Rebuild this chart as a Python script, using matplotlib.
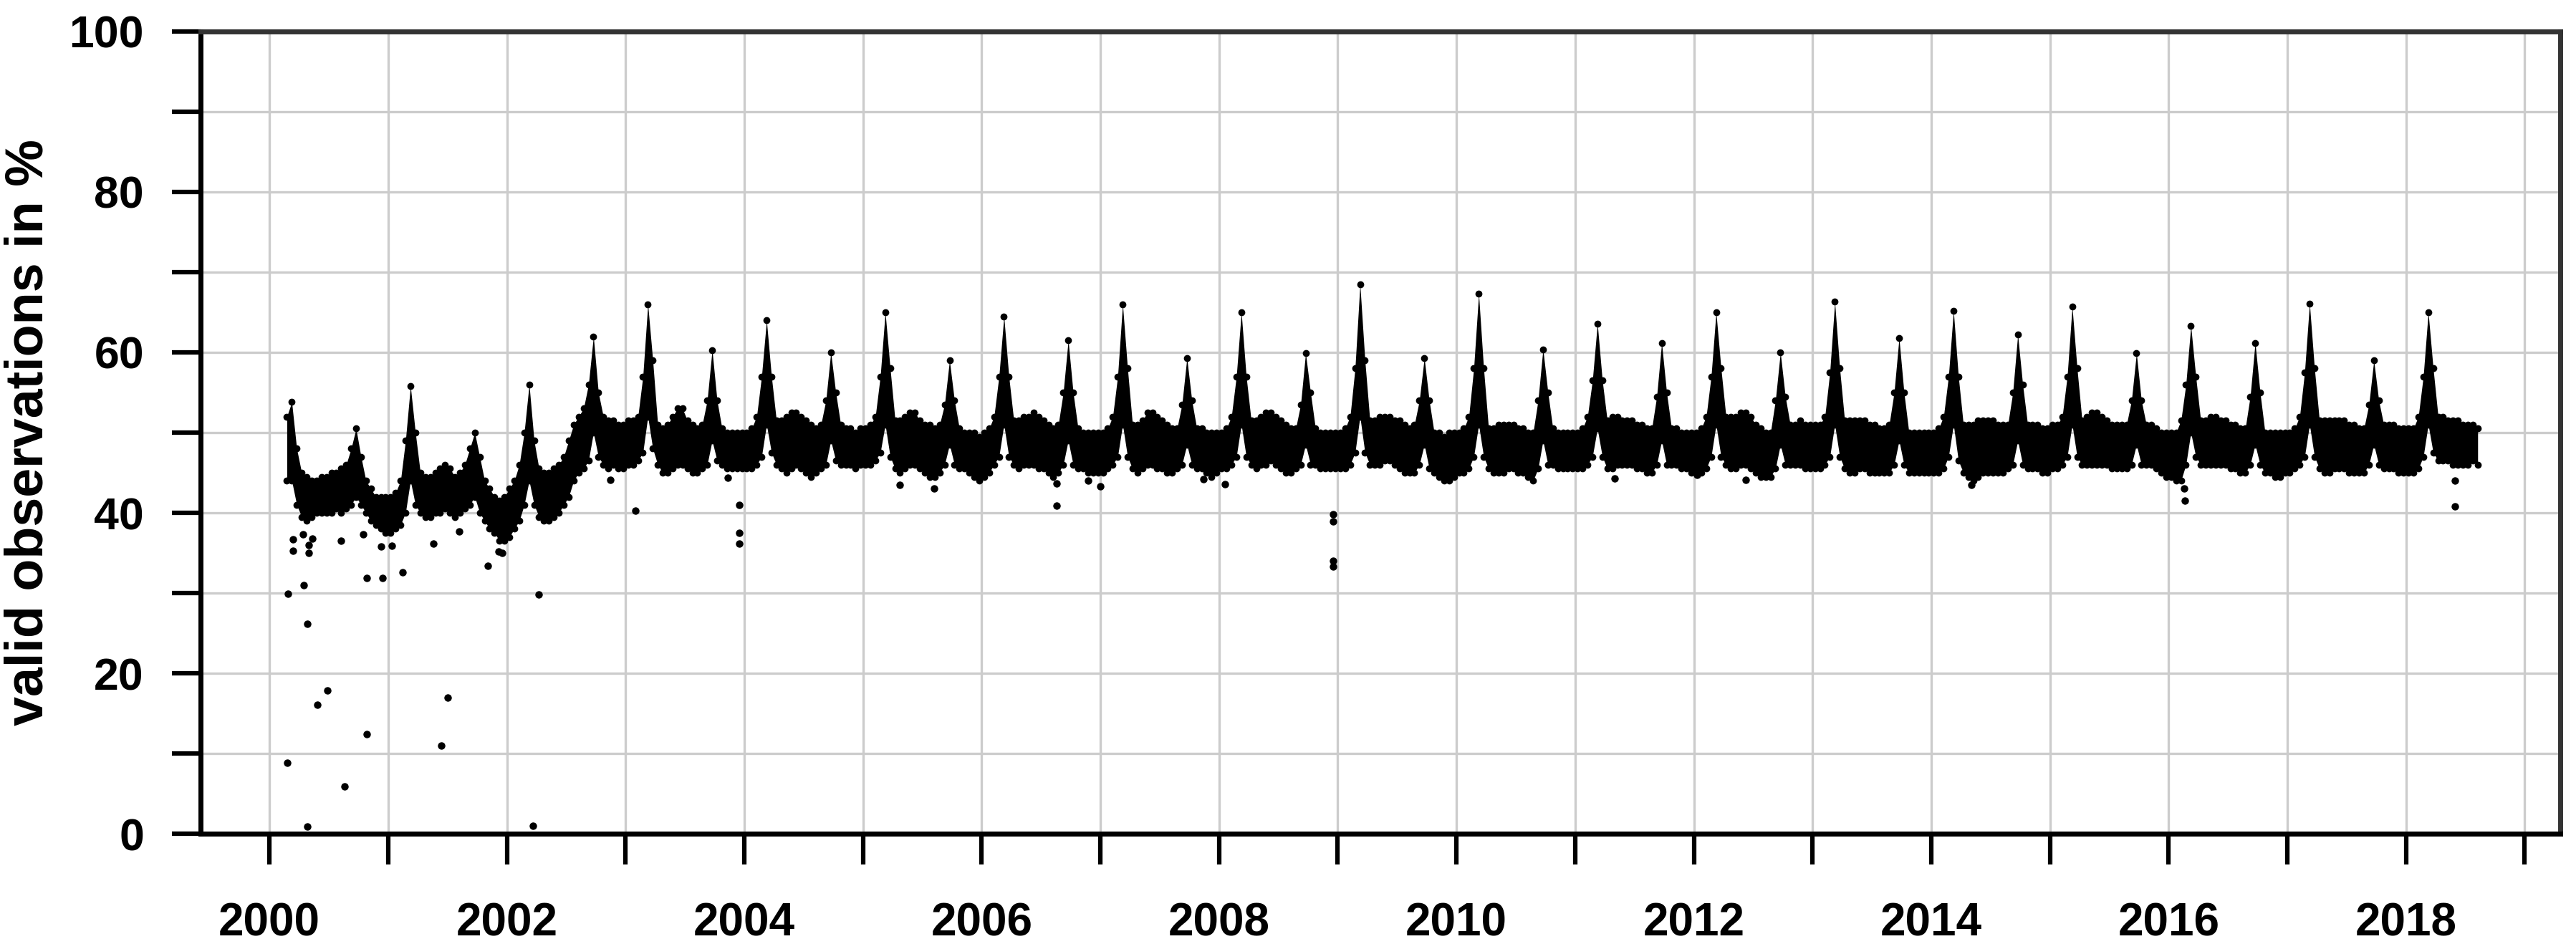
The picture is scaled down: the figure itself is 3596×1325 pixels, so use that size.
import numpy as np
import matplotlib
matplotlib.use("Agg")
import matplotlib.pyplot as plt

plt.rcParams['font.family'] = ['Liberation Sans', 'DejaVu Sans']
plt.rcParams['font.weight'] = 'bold'

nan = np.nan

# years of record, each split into 24 half-month bins
years = list(range(2000, 2019))

# upper edge of the daily point cloud per half-month bin (valid observations in %)
upper = [
    [nan, nan, nan, 52, 53.8, 48, 45, 44.5, 44, 44, 44.5, 44.5, 45, 45, 45.5, 46, 48, 50.5, 47, 44, 43, 42, 42, 42],
    [42, 42.5, 44, 49, 55.8, 50, 45, 44.5, 44.5, 45, 45.5, 46, 45.5, 44.5, 45, 46, 48, 50, 47, 44, 43, 42, 41.5, 42],
    [43, 44, 46, 50, 56, 49, 45.5, 45, 45, 45.5, 46, 47, 49, 51, 52, 53, 56, 62, 55, 52, 51.5, 51.5, 51, 51],
    [51.5, 51.5, 52, 57, 66, 59, 51, 50.5, 51, 52, 53, 53, 51.5, 51, 50.5, 51, 54, 60.3, 54, 50.5, 50, 50, 50, 50],
    [50, 50.5, 52, 57, 64, 57, 51.5, 51.5, 52, 52.5, 52.5, 52, 51.5, 51, 50.5, 51, 54, 60, 55, 51, 50.5, 50.5, 50, 50.5],
    [50.5, 51, 52, 57, 65, 58, 51.5, 51.5, 52, 52.5, 52.5, 51.5, 51, 51, 50.5, 51, 53.5, 59, 54, 50.5, 50, 50, 50, 49.5],
    [50, 50.5, 52, 57, 64.5, 57, 51.5, 51.5, 52, 52, 52.5, 52, 51.5, 51, 50.5, 51, 55, 61.5, 55, 50.5, 50, 50, 50, 50],
    [50, 50.5, 52, 57, 66, 58, 51, 51, 51.5, 52.5, 52.5, 52, 51.5, 51, 50.5, 50.5, 53.5, 59.3, 54, 50.5, 50.5, 50, 50, 50],
    [50, 50.5, 52, 57, 65, 57, 51.5, 51.5, 52, 52.5, 52.5, 52, 51.5, 51, 50.5, 50.5, 53.5, 59.9, 55, 50.5, 50, 50, 50, 50],
    [50, 50.5, 52, 58, 68.5, 59, 51.5, 51.5, 52, 52, 52, 51.5, 51.5, 51, 50.5, 51, 54, 59.3, 54, 50, 50, 49.5, 50, 50],
    [50, 50.5, 52, 58, 67.3, 58, 50.5, 50.5, 51, 51, 51, 51, 50.5, 50.5, 50, 50, 54, 60.4, 55, 50.5, 50, 50, 50, 50],
    [50, 50.5, 52, 56.5, 63.6, 56.5, 51.5, 52, 52, 51.5, 51.5, 51.5, 51, 51, 50.5, 50.5, 54.5, 61.2, 55, 50.5, 50.5, 50, 50, 50],
    [50, 50.5, 52, 57, 65, 58, 52, 52, 52, 52.5, 52.5, 52, 51, 50.5, 50, 50, 54, 60, 54.5, 51, 51, 51.5, 51, 51],
    [51, 51, 52, 57.5, 66.3, 58, 51.5, 51.5, 51.5, 51.5, 51.5, 51, 51, 50.5, 50.5, 51, 55, 61.8, 55, 50, 50, 50, 50, 50],
    [50, 50.5, 52, 57, 65.2, 57, 51, 51, 51, 51.5, 51.5, 51.5, 51.5, 51, 51, 51, 55, 62.2, 56, 51, 51, 51, 50.5, 50.5],
    [51, 51, 52, 57, 65.7, 58, 51.5, 52, 52.5, 52.5, 52, 51.5, 51, 51, 51, 51, 54, 59.9, 54, 51, 51, 50.5, 50, 50],
    [50, 50, 51.5, 56, 63.3, 57, 51.5, 51.5, 52, 52, 51.5, 51.5, 51, 51, 50.5, 50.5, 54.5, 61.2, 55, 50, 50, 50, 50, 50],
    [50, 50.5, 52, 57.5, 66.1, 58, 51.5, 51.5, 51.5, 51.5, 51.5, 51.5, 51, 51, 50.5, 50.5, 53.5, 59, 54, 51, 51, 51, 50.5, 50.5],
    [50.5, 50.5, 52, 57, 65, 58, 52, 52, 51.5, 51.5, 51.5, 51, 51, 51, 50.5, nan, nan, nan, nan, nan, nan, nan, nan, nan],
]

# lower edge of the daily point cloud per half-month bin
lower = [
    [nan, nan, nan, 44, 44, 41, 39.5, 39, 39.5, 40, 40, 40, 40, 40.5, 40, 40.5, 41, 42, 41, 40, 39, 38.5, 38, 37.5],
    [37.5, 38, 38.5, 40, 44, 41, 40, 39.5, 39.5, 40, 40, 40.5, 40, 39.5, 40, 40.5, 41, 42, 40, 39, 38, 37.5, 36.5, 36.5],
    [37, 38, 39, 41, 44, 41, 39.5, 39, 39, 39.5, 40, 41, 42, 44, 45, 45.5, 46.5, 50, 47, 46, 45.5, 46, 45.5, 45.5],
    [46, 46, 46.5, 47.5, 52, 48, 46, 45, 45, 45.5, 46, 46, 45.5, 45, 45, 45.5, 46, 49, 46.5, 46, 45.5, 45.5, 45.5, 45.5],
    [45.5, 45.5, 46, 47, 51, 47.5, 46, 45.5, 45, 45.5, 46, 45.5, 45, 44.5, 45, 45.5, 46, 49, 46.5, 46, 46, 46, 45.5, 46],
    [46, 46, 46.5, 47.5, 51, 47, 45.5, 45, 45.5, 46, 46, 45.5, 45, 44.5, 44.5, 45, 46, 48.5, 46, 45.5, 45.5, 45, 44.5, 44],
    [44.5, 45, 46, 47, 51, 47, 46, 45.5, 46, 46, 46, 45.5, 45.5, 45, 44.5, 45, 46, 49, 46, 45.5, 45.5, 45, 45, 45],
    [45, 45.5, 46, 47, 51, 47, 45.5, 45, 45.5, 46, 46, 45.5, 45.5, 45, 45, 45.5, 46, 48.5, 46, 45.5, 45.5, 45, 44.5, 45],
    [45.5, 45.5, 46, 47, 51, 47, 46, 45.5, 46, 46, 46.5, 46, 45.5, 45, 45, 45.5, 46, 48.5, 46, 46, 45.5, 45.5, 45.5, 45.5],
    [45.5, 45.5, 46, 47.5, 52, 47.5, 46, 46, 46, 46.5, 46.5, 46, 45.5, 45, 45, 45, 46, 48.5, 45.5, 45, 44.5, 44, 44, 44.5],
    [45, 45, 45.5, 47, 51, 47, 45.5, 45, 45, 45, 45.5, 45.5, 45, 45, 44.5, 44, 45.5, 49, 46, 46, 45.5, 45.5, 45.5, 45.5],
    [45.5, 45.5, 46, 47, 50.5, 47, 45.5, 45.5, 46, 46, 46, 46, 45.5, 45.5, 45, 45, 46, 49, 46, 46, 46, 45.5, 45.5, 45],
    [45, 45, 45.5, 47, 51, 47, 46, 45.5, 45.5, 46, 46, 45.5, 45, 44.5, 44.5, 44.5, 45.5, 48.5, 46, 46, 46, 46, 45.5, 45.5],
    [45.5, 45.5, 46, 47, 51, 47, 45.5, 45, 45, 45.5, 45.5, 45, 45, 45, 45, 45, 46, 49, 46, 45, 45, 45, 45, 45],
    [45, 45, 45.5, 47, 51, 46.5, 45, 44.5, 44, 44.5, 45, 45, 45, 45, 45, 45.5, 46, 49, 46, 45.5, 45.5, 45.5, 45, 45],
    [45.5, 45.5, 46, 47, 51, 47, 46, 46, 46, 46, 46, 46, 45.5, 45.5, 45.5, 45.5, 46, 48.5, 46, 46, 46, 45.5, 45, 44.5],
    [44.5, 44, 44, 46, 50, 47, 46, 46, 46, 46, 46, 46, 45.5, 45.5, 45, 45, 46, 48.5, 46, 45, 45, 44.5, 44.5, 45],
    [45, 45.5, 46, 47, 51, 47, 45.5, 45, 45, 45.5, 45.5, 45.5, 45, 45, 45, 45, 46, 48.5, 46, 45.5, 45.5, 45.5, 45, 45],
    [45, 45, 45.5, 47, 51, 47.5, 46.5, 46.5, 46.5, 46, 46, 46, 46, 46.5, 46, nan, nan, nan, nan, nan, nan, nan, nan, nan],
]

# single days well outside the main cloud
out_t = [2000.15, 2000.155, 2000.29, 2000.32, 2000.32, 2000.40, 2000.49, 2000.63, 2000.82, 2000.82,
         2000.95, 2001.12, 2001.45, 2001.50, 2001.84, 2002.22, 2002.27,
         2000.20, 2000.20, 2000.33, 2000.33, 2000.28, 2000.36, 2000.60, 2000.79, 2000.94, 2001.03,
         2001.38, 2001.60, 2001.93, 2001.96,
         2002.87, 2003.08, 2003.86, 2003.96, 2003.96, 2003.96, 2005.31, 2005.60, 2006.63, 2006.63,
         2006.90, 2007.00, 2007.87, 2008.05, 2008.96, 2008.96, 2008.96, 2008.96, 2011.33, 2012.03,
         2012.44, 2014.34, 2016.13, 2016.14, 2018.41, 2018.41]
out_v = [8.8, 29.9, 31.0, 26.2, 0.9, 16.1, 17.9, 5.9, 12.4, 31.9,
         31.9, 32.6, 11.0, 17.0, 33.4, 1.0, 29.8,
         36.7, 35.3, 35.0, 36.0, 37.3, 36.8, 36.5, 37.3, 35.8, 35.9,
         36.2, 37.7, 35.2, 35.0,
         44.1, 40.3, 44.4, 41.0, 37.5, 36.2, 43.5, 43.0, 43.7, 40.9,
         44.0, 43.3, 44.2, 43.6, 39.8, 38.9, 34.0, 33.3, 44.3, 44.7,
         44.1, 43.5, 43.0, 41.5, 40.8, 44.0]

# bin centres in decimal years
t = np.concatenate([y + (np.arange(24) + 0.5) / 24.0 for y in years])
hi = np.concatenate([np.array(r, dtype=float) for r in upper])
lo = np.concatenate([np.array(r, dtype=float) for r in lower])

fig = plt.figure(figsize=(35.96, 13.25), dpi=100)
ax = fig.add_axes([0.0779, 0.1215, 0.9939 - 0.0779, 0.9668 - 0.1215])

ax.fill_between(t, lo, hi, color='black', lw=0, zorder=3)
ax.plot(t, hi, 'o', color='black', ms=6, zorder=3)
ax.plot(t, lo, 'o', color='black', ms=6, zorder=3)
ax.plot(out_t, out_v, 'o', color='black', ms=6.5, zorder=3)

ax.set_xlim(1999.42, 2019.30)
ax.set_ylim(0, 100)
ax.set_xticks(range(2000, 2019, 2))
ax.set_xticks(range(2001, 2020, 2), minor=True)
ax.set_yticks(range(0, 101, 20))
ax.set_yticks(range(10, 100, 20), minor=True)

ax.grid(which='both', color='#cccccc', lw=2.4)
ax.set_axisbelow(True)

ax.tick_params(axis='x', which='both', direction='out', length=31, width=4.5, pad=38,
               labelsize=46, color='black')
ax.tick_params(axis='y', which='both', direction='out', length=29, width=4.5, pad=28,
               labelsize=45, color='black')
for lab in ax.get_xticklabels() + ax.get_yticklabels():
    lab.set_fontweight('bold')

for side in ['left', 'bottom']:
    ax.spines[side].set_linewidth(5)
    ax.spines[side].set_color('black')
for side in ['top', 'right']:
    ax.spines[side].set_linewidth(5)
    ax.spines[side].set_color('#333333')

ax.set_ylabel('valid observations in %', fontsize=53, fontweight='bold', labelpad=16)

fig.savefig('out.png', dpi=100)
